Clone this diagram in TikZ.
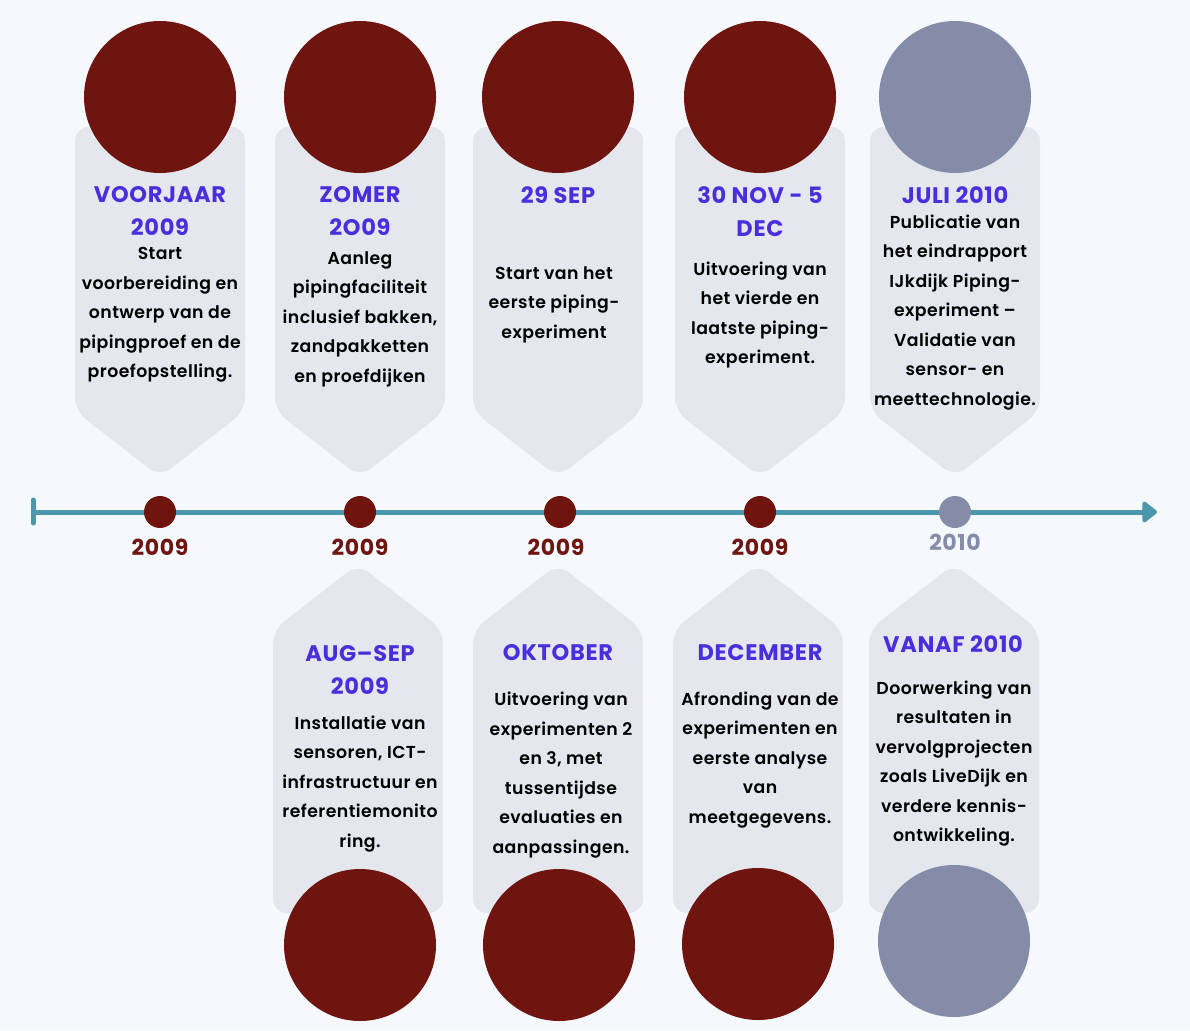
\documentclass[tikz,border=0pt]{standalone}
\usepackage{fontspec}
\setmainfont{Poppins}
\newfontfamily\semib{Poppins SemiBold}[LetterSpace=2.5]
\newfontfamily\boldf{Poppins Bold}[LetterSpace=3]
\usetikzlibrary{arrows.meta}
\definecolor{bgc}{HTML}{F5F8FD}
\definecolor{cardc}{HTML}{E5E7EF}
\definecolor{redc}{HTML}{6F140E}
\definecolor{greyc}{HTML}{848CA8}
\definecolor{linec}{HTML}{4A97AE}
\definecolor{titlec}{HTML}{4A2DDB}
\tikzset{
  card/.style={fill=cardc, rounded corners=14pt},
  bigdot/.style={circle, minimum size=152pt, inner sep=0pt},
  smalldot/.style={circle, minimum size=32pt, inner sep=0pt},
  ttl/.style={text=titlec, font=\boldf\fontsize{22.5}{33}\selectfont, align=center, inner sep=0pt},
  body/.style={text=black, font=\semib\fontsize{17.3}{29.5}\selectfont, align=center, inner sep=0pt},
  yr/.style={font=\boldf\fontsize{22}{24}\selectfont, inner sep=0pt}
}
\begin{document}
\begin{tikzpicture}[x=1pt,y=-1pt]
\fill[bgc] (0,0) rectangle (1190,1030);
\useasboundingbox (0,0) rectangle (1190,1030);
% top cards
\foreach \c in {160,360,558,760,955}{
  \fill[card] (\c-85,127) -- (\c+85,127) -- (\c+85,411) -- (\c,477) -- (\c-85,411) -- cycle;
}
% bottom cards
\foreach \c in {358,558,758,954}{
  \fill[card] (\c-85,630) -- (\c,564) -- (\c+85,630) -- (\c+85,913) -- (\c-85,913) -- cycle;
}
% top circles
\node[bigdot, fill=redc] (t1) at (160,97) {};
\node[bigdot, fill=redc] (t2) at (360,97) {};
\node[bigdot, fill=redc] (t3) at (558,97) {};
\node[bigdot, fill=redc] (t4) at (760,97) {};
\node[bigdot, fill=greyc] (t5) at (955,97) {};
% bottom circles
\node[bigdot, fill=redc] (b2) at (360,945) {};
\node[bigdot, fill=redc] (b3) at (559,945) {};
\node[bigdot, fill=redc] (b4) at (758,944) {};
\node[bigdot, fill=greyc] (b5) at (954,941) {};
% timeline
\coordinate (ls) at (33,512);
\coordinate (le) at (1157,512);
\draw[linec, line width=5pt, line cap=round] (33,500) -- (33,523);
\draw[linec, line width=5pt, -{Triangle[length=16pt,width=24pt,round]}] (ls) -- (le);
\node[smalldot, fill=redc] (d1) at (160,512) {};
\node[smalldot, fill=redc] (d2) at (360,512) {};
\node[smalldot, fill=redc] (d3) at (560,512) {};
\node[smalldot, fill=redc] (d4) at (760,512) {};
\node[smalldot, fill=greyc] (d5) at (955,512) {};
\node[yr, text=redc] (y1) at (160,547) {2009};
\node[yr, text=redc] (y2) at (360,547) {2009};
\node[yr, text=redc] (y3) at (556,547) {2009};
\node[yr, text=redc] (y4) at (760,547) {2009};
\node[yr, text=greyc] (y5) at (955,542) {2010};
% top texts
\node[ttl] (tt1) at (160,211.5) {VOORJAAR\\2009};
\node[ttl] (tt2) at (360,211.5) {ZOMER\\2O09};
\node[ttl] (tt3) at (558,195) {29 SEP};
\node[ttl] (tt4) at (760,211.5) {30 NOV - 5\\DEC};
\node[ttl] (tt5) at (955,195) {JULI 2010};
\node[body] (tb1) at (160,315) {Start\\voorbereiding en\\ontwerp van de\\pipingproef en de\\proefopstelling.};
\node[body] (tb2) at (360,319) {Aanleg\\pipingfaciliteit\\inclusief bakken,\\zandpakketten\\en proefdijken};
\node[body] (tb3) at (554,304.5) {Start van het\\eerste piping-\\experiment};
\node[body] (tb4) at (760,315) {Uitvoering van\\het vierde en\\laatste piping-\\experiment.};
\node[body] (tb5) at (955,312.5) {Publicatie van\\het eindrapport\\IJkdijk Piping-\\experiment –\\Validatie van\\sensor- en\\meettechnologie.};
% bottom texts
\node[ttl] (bt2) at (360,670) {AUG–SEP\\2009};
\node[ttl] (bt3) at (558,653) {OKTOBER};
\node[ttl] (bt4) at (760,653) {DECEMBER};
\node[ttl] (bt5) at (953,644) {VANAF 2010};
\node[body] (bb2) at (360,784) {Installatie van\\sensoren, ICT-\\infrastructuur en\\referentiemonito\\ring.};
\node[body] (bb3) at (561,775) {Uitvoering van\\experimenten 2\\en 3, met\\tussentijdse\\evaluaties en\\aanpassingen.};
\node[body] (bb4) at (760,760) {Afronding van de\\experimenten en\\eerste analyse\\van\\meetgegevens.};
\node[body] (bb5) at (954,763.5) {Doorwerking van\\resultaten in\\vervolgprojecten\\zoals LiveDijk en\\verdere kennis-\\ontwikkeling.};
\end{tikzpicture}
\end{document}
